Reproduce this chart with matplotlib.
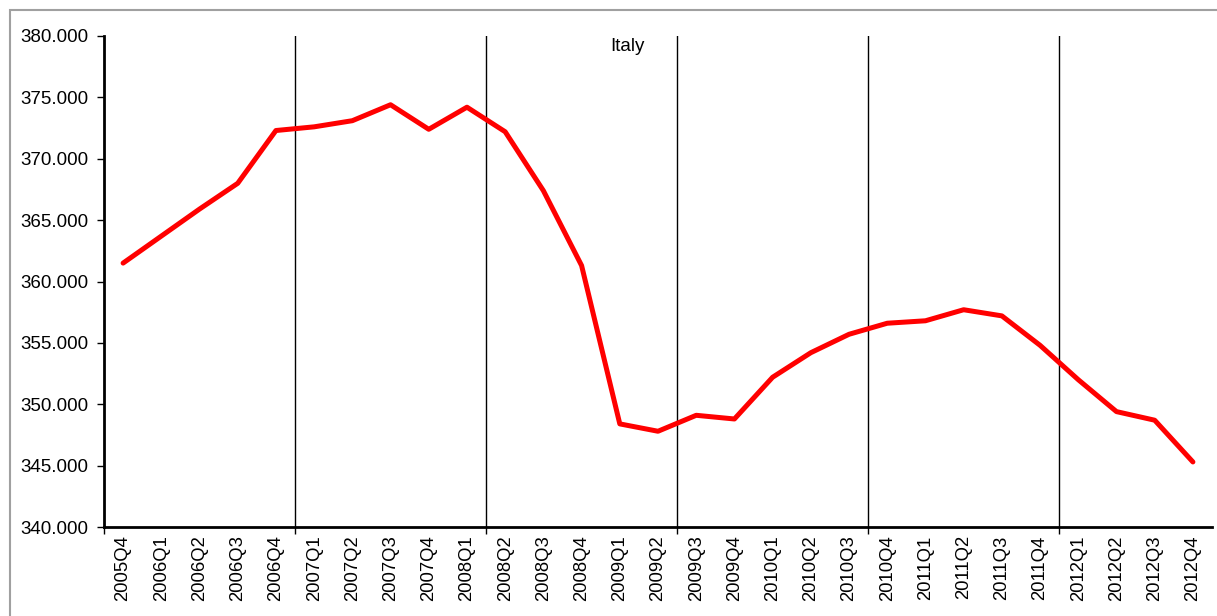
import numpy as np
import matplotlib.pyplot as plt
from matplotlib.patches import Rectangle

plt.rcParams['font.family'] = ['Liberation Sans', 'DejaVu Sans']

# 季度标签
quarters = ['2005Q4',
            '2006Q1', '2006Q2', '2006Q3', '2006Q4',
            '2007Q1', '2007Q2', '2007Q3', '2007Q4',
            '2008Q1', '2008Q2', '2008Q3', '2008Q4',
            '2009Q1', '2009Q2', '2009Q3', '2009Q4',
            '2010Q1', '2010Q2', '2010Q3', '2010Q4',
            '2011Q1', '2011Q2', '2011Q3', '2011Q4',
            '2012Q1', '2012Q2', '2012Q3', '2012Q4']

# 数值
italy = [361.5,
         363.7, 365.9, 368.0, 372.3,
         372.6, 373.1, 374.4, 372.4,
         374.2, 372.2, 367.4, 361.3,
         348.4, 347.8, 349.1, 348.8,
         352.2, 354.2, 355.7, 356.6,
         356.8, 357.7, 357.2, 354.8,
         352.0, 349.4, 348.7, 345.3]

x = np.arange(len(quarters))
# 每5个季度一条竖线
bounds = list(np.arange(4.5, len(quarters) - 1, 5))

fig = plt.figure(figsize=(12.17, 6.16), dpi=100)
# 外框
fig.patches.append(Rectangle((10 / 1217, -0.1), 1.2, (606 / 616) + 0.1,
                             transform=fig.transFigure, fill=False,
                             edgecolor='#a0a0a0', linewidth=1.5))

ax = fig.add_axes([104 / 1217, 1 - 527 / 616, 1108 / 1217, 491 / 616])
ax.plot(x, italy, color='#ff0000', linewidth=3.6, solid_capstyle='round',
        solid_joinstyle='round', zorder=3)

for b in bounds:
    ax.axvline(b, color='black', linewidth=1, zorder=2)

ax.set_xlim(-0.5, len(quarters) - 0.5)
ax.set_ylim(340, 380)
ax.set_yticks(np.arange(340, 381, 5))
ax.set_yticklabels([f'{v:.3f}' for v in np.arange(340, 381, 5)])

ax.set_xticks([-0.5] + bounds)
ax.set_xticklabels([])
ax.set_xticks(x, minor=True)
ax.set_xticklabels(quarters, minor=True, rotation=90)
ax.tick_params(axis='x', which='major', length=5, width=1, direction='out')
ax.tick_params(axis='x', which='minor', length=0, pad=6, labelsize=13.3)
ax.tick_params(axis='y', length=5, width=1, labelsize=13.5, pad=6.5)

for s in ['top', 'right']:
    ax.spines[s].set_visible(False)
for s in ['left', 'bottom']:
    ax.spines[s].set_linewidth(2)

ax.text(0.472, 0.995, 'Italy', transform=ax.transAxes, ha='center', va='top',
        fontsize=13.5)

fig.savefig('out.png', dpi=100)
